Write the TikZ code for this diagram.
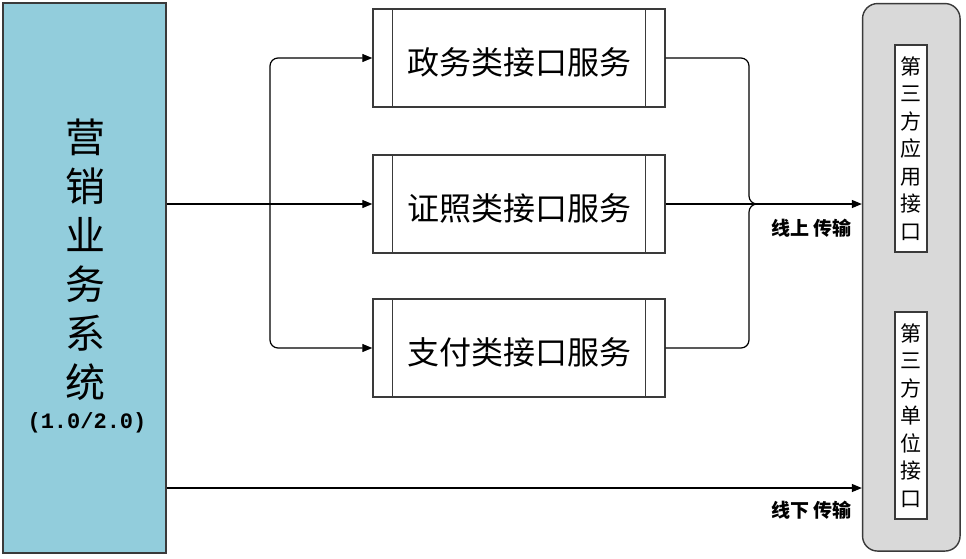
\documentclass[tikz,border=0pt]{standalone}
\usepackage{fontspec}
\newfontfamily\cjk{Noto Sans CJK SC}
\newfontfamily\monofnt{Liberation Mono}
\usetikzlibrary{arrows.meta}
\definecolor{sysblue}{HTML}{92CDDC}
\definecolor{panelgray}{HTML}{D9D9D9}
\definecolor{edgegray}{HTML}{3A3A3A}
\begin{document}
\begin{tikzpicture}[x=1pt,y=-1pt,
  svc/.style={draw=edgegray, line width=1.4pt, minimum width=292pt, minimum height=98pt, inner sep=0pt, text height=32pt, text depth=0pt, font=\cjk\fontsize{32}{32}\selectfont},
  ifbox/.style={draw=edgegray, fill=white, line width=1.3pt, minimum width=32pt, minimum height=207pt, inner sep=0pt, align=center, font=\cjk\fontsize{21}{27.5}\selectfont},
  conn/.style={line width=1.2pt, draw=black},
  arr/.style={conn, -{Triangle[length=10pt,width=8pt]}},
  lbl/.style={font=\cjk\bfseries\fontsize{19}{19}\selectfont, inner sep=0pt, anchor=east}
]
\useasboundingbox (0,0) rectangle (966,558);
% left system box
\node[draw=edgegray, fill=sysblue, line width=1.4pt, minimum width=163pt, minimum height=550pt, inner sep=0pt] (sys) at (84.5,278) {};
\node[font=\cjk\fontsize{40}{49}\selectfont, align=center, inner sep=0pt] (title) at (85,260) {营\\销\\业\\务\\系\\统};
\node[font=\monofnt\bfseries\fontsize{22}{22}\selectfont, inner sep=0pt] (ver) at (87,423) {(1.0/2.0)};
% service boxes
\node[svc] (b1) at (519,58) {政务类接口服务};
\node[svc] (b2) at (519,204) {证照类接口服务};
\node[svc] (b3) at (519,348) {支付类接口服务};
\foreach \b in {b1,b2,b3}{
  \draw[draw=edgegray, line width=1.4pt] ([xshift=20pt]\b.north west) -- ([xshift=20pt]\b.south west);
  \draw[draw=edgegray, line width=1.4pt] ([xshift=-20pt]\b.north east) -- ([xshift=-20pt]\b.south east);
}
% right panel
\node[draw=edgegray, fill=panelgray, rounded corners=15pt, line width=1.4pt, minimum width=97.5pt, minimum height=547.5pt, inner sep=0pt] (panel) at (911.3,277.3) {};
\node[ifbox] (app) at (911,148.5) {第\\三\\方\\应\\用\\接\\口};
\node[ifbox] (unit) at (911,415.5) {第\\三\\方\\单\\位\\接\\口};
% connectors
\coordinate (split) at (270,204);
\coordinate (merge) at (749,204);
\coordinate (lowy) at (0,488);
\draw[arr] (sys.east |- b2.west) -- (b2.west);
\draw[arr, rounded corners=8pt] (split) |- (b1.west);
\draw[arr, rounded corners=8pt] (split) |- (b3.west);
\draw[conn, rounded corners=8pt] (b1.east) -| (merge) -- ++(8,0);
\draw[conn, rounded corners=8pt] (b3.east) -| (merge) -- ++(8,0);
\draw[arr] (b2.east) -- (panel.west |- b2.east);
\draw[arr] (sys.east |- lowy) -- (panel.west |- lowy);
% labels
\node[lbl] (online) at (852,228) {线上 传输};
\node[lbl] (offline) at (852,510) {线下 传输};
\end{tikzpicture}
\end{document}
